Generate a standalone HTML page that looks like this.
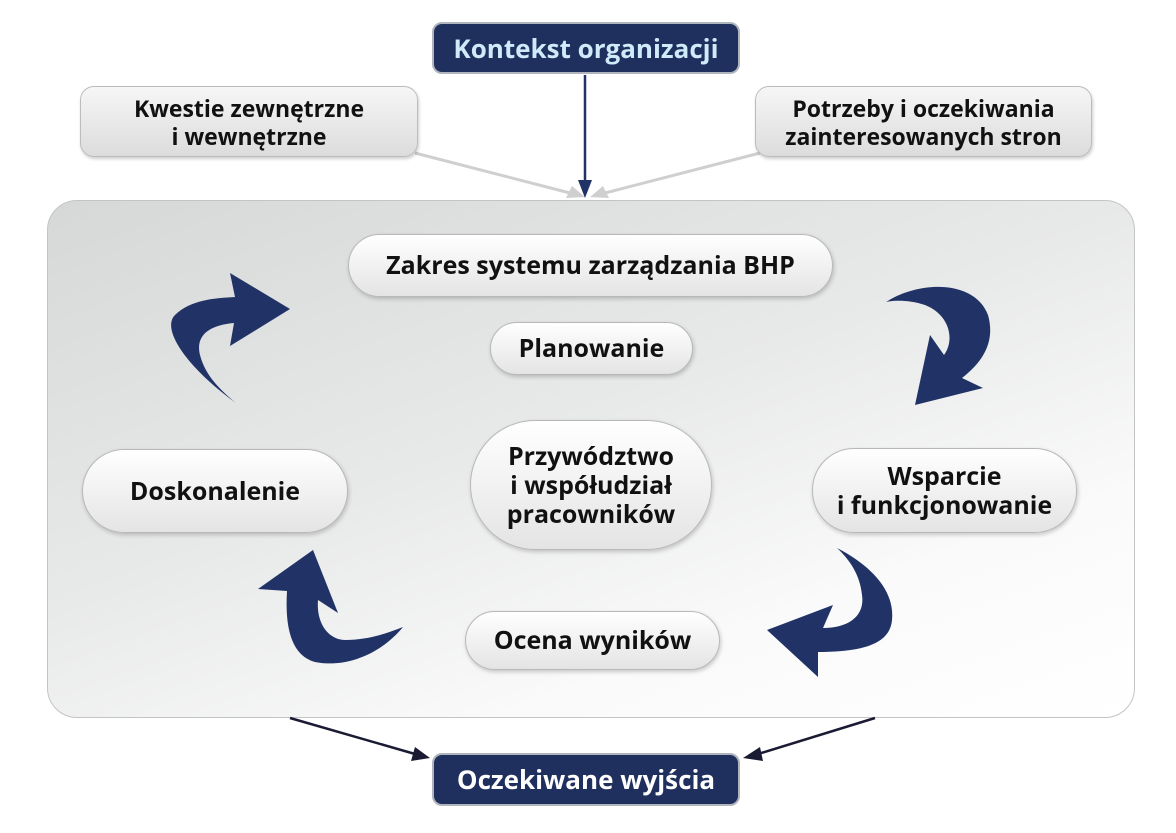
<!DOCTYPE html>
<html><head><meta charset="utf-8"><style>
body{margin:0;width:1176px;height:833px;background:#fff;position:relative;font-family:"Open Sans","Liberation Sans","DejaVu Sans",sans-serif;overflow:hidden}
.n{position:absolute;box-sizing:border-box;display:flex;align-items:center;justify-content:center;text-align:center;font-weight:bold;color:#111;font-size:25px;line-height:29px}
.g{background:linear-gradient(#f6f6f6,#dcdcdc);border:1.5px solid #bcbcbc;border-radius:14px;box-shadow:1px 2px 3px rgba(0,0,0,.2);font-size:23px;line-height:28px}
.p{background:linear-gradient(#ffffff,#e4e4e4);border:1.5px solid #b8b8b8;box-shadow:1px 2px 4px rgba(0,0,0,.2)}
.d{background:#1f2f5e;border:2px solid #b0b4bc;border-radius:10px;color:#fff;font-size:26px}
</style></head><body>
<div style="position:absolute;left:47px;top:200px;width:1088px;height:518px;box-sizing:border-box;border:1.5px solid #c4c4c4;border-radius:30px;background:linear-gradient(160deg,#d6d8d8 0%,#e8e9e9 45%,#fafafa 75%,#fff 100%)"></div>
<svg width="1176" height="833" style="position:absolute;left:0;top:0">
<line x1="415" y1="153" x2="570" y2="193" stroke="#cfcfcf" stroke-width="3"/>
<polygon points="585,197 566,198 572,186" fill="#cfcfcf"/>
<line x1="760" y1="153" x2="605" y2="193" stroke="#cfcfcf" stroke-width="3"/>
<polygon points="590,197 609,198 603,186" fill="#cfcfcf"/>
<line x1="585" y1="75" x2="585" y2="185" stroke="#213366" stroke-width="2.5"/>
<polygon points="585,198 578,180 592,180" fill="#213366"/>
<line x1="290" y1="718" x2="415" y2="754" stroke="#1a1a33" stroke-width="2.5"/>
<polygon points="430,758 411,761 415,747" fill="#1a1a33"/>
<line x1="875" y1="718" x2="758" y2="754" stroke="#1a1a33" stroke-width="2.5"/>
<polygon points="743,758 760,747 763,761" fill="#1a1a33"/>
<g fill="#213366">
<path d="M236,403 C190,370 160,330 175,315 C190,300 215,298 235,297 L230,273 L290,309 L230,346 L234,323 C210,325 195,335 200,355 C205,375 220,390 236,403 Z"/>
<path d="M886,302 C920,280 975,280 988,315 C995,340 985,360 962,378 L983,388 L915,405 L930,335 L944,355 C955,340 950,315 925,305 C910,300 895,300 886,302 Z"/>
<path d="M837,548 C870,565 895,590 892,620 C890,645 860,652 818,652 L818,677 L767,630 L833,605 L823,628 C850,628 865,615 862,595 C860,575 850,560 837,548 Z"/>
<path d="M313,550 L338,613 L318,600 C316,625 330,640 345,640 C370,640 390,632 403,627 C380,655 345,668 315,662 C290,655 285,625 287,591 L258,589 Z"/>
</g>
</svg>
<div class="n d" style="left:432px;top:22px;width:308px;height:52px;color:#cfeaf8">Kontekst organizacji</div>
<div class="n g" style="left:80px;top:86px;width:338px;height:71px">Kwestie zewnętrzne<br>i wewnętrzne</div>
<div class="n g" style="left:755px;top:86px;width:337px;height:71px">Potrzeby i oczekiwania<br>zainteresowanych stron</div>
<div class="n p" style="left:348px;top:234px;width:485px;height:63px;border-radius:32px">Zakres systemu zarządzania BHP</div>
<div class="n p" style="left:490px;top:322px;width:203px;height:53px;border-radius:27px">Planowanie</div>
<div class="n p" style="left:470px;top:420px;width:242px;height:130px;border-radius:65px">Przywództwo<br>i współudział<br>pracowników</div>
<div class="n p" style="left:82px;top:449px;width:266px;height:84px;border-radius:42px">Doskonalenie</div>
<div class="n p" style="left:812px;top:448px;width:265px;height:85px;border-radius:42px">Wsparcie<br>i funkcjonowanie</div>
<div class="n p" style="left:465px;top:611px;width:255px;height:59px;border-radius:30px">Ocena wyników</div>
<div class="n d" style="left:432px;top:753px;width:308px;height:53px">Oczekiwane wyjścia</div>
</body></html>
